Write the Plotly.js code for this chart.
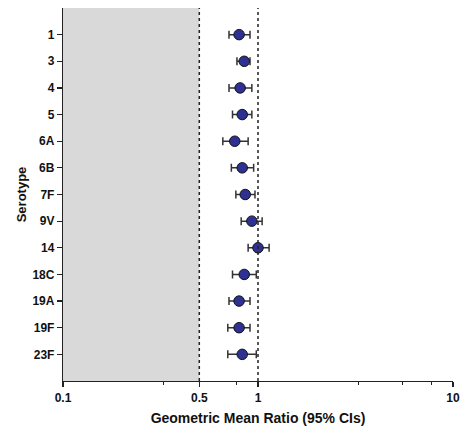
<!DOCTYPE html>
<html>
<head>
<meta charset="utf-8">
<script src="https://cdn.plot.ly/plotly-3.0.1.min.js"></script>
<style>html,body{margin:0;padding:0;background:#fff;}#chart{width:461px;height:426px;}</style>
</head>
<body>
<div id="chart"></div>
<script>
const serotypes = ["1","3","4","5","6A","6B","7F","9V","14","18C","19A","19F","23F"];
const gmr =   [0.80, 0.85, 0.81, 0.83, 0.76, 0.83, 0.86, 0.93, 1.00, 0.85, 0.80, 0.80, 0.83];
const lower = [0.71, 0.78, 0.71, 0.74, 0.66, 0.73, 0.77, 0.82, 0.89, 0.74, 0.71, 0.70, 0.70];
const upper = [0.91, 0.91, 0.93, 0.93, 0.89, 0.95, 0.965, 1.05, 1.14, 0.98, 0.91, 0.91, 0.98];
const xTickVals = [0.1, 0.5, 1, 10];
const xTickText = ["0.1", "0.5", "1", "10"];
const xMinorVals = [0.326, 0.775, 3.26, 5.5, 7.75];
const shadeFrom = 0.1, shadeTo = 0.5;
const refLines = [0.5, 1];

const fontFam = "Liberation Sans, Arial, sans-serif";

const trace = {
  type: "scatter",
  mode: "markers",
  x: gmr,
  y: serotypes,
  marker: {size: 10.5, color: "#2e3192", line: {color: "#111", width: 1}},
  error_x: {
    type: "data",
    symmetric: false,
    array: upper.map((u, i) => u - gmr[i]),
    arrayminus: lower.map((l, i) => gmr[i] - l),
    color: "#333",
    thickness: 1.5,
    width: 4
  },
  hoverinfo: "x+y",
  showlegend: false
};

const shapes = [
  {type: "rect", xref: "x", yref: "paper", x0: shadeFrom, x1: shadeTo, y0: 0, y1: 1,
   fillcolor: "#d9d9d9", line: {width: 0}, layer: "below"}
].concat(refLines.map(v => ({
  type: "line", xref: "x", yref: "paper", x0: v, x1: v, y0: 0, y1: 1,
  line: {color: "#222", width: 1.5, dash: "dot"}, layer: "above"
})));

const layout = {
  width: 461, height: 426,
  margin: {l: 63, r: 8, t: 8, b: 45},
  paper_bgcolor: "#fff", plot_bgcolor: "#fff",
  font: {family: fontFam, color: "#111", size: 12, weight: "bold"},
  xaxis: {
    type: "log",
    range: [-1, 1],
    tickvals: xTickVals,
    ticktext: xTickText,
    ticks: "outside", ticklen: 5, tickwidth: 1.2, tickcolor: "#222",
    minor: {tickvals: xMinorVals, ticks: "outside", ticklen: 3, tickwidth: 1, tickcolor: "#222", showgrid: false},
    showline: true, linecolor: "#222", linewidth: 1.2,
    showgrid: false, zeroline: false,
    tickfont: {family: fontFam, size: 12, weight: "bold", color: "#111"},
    title: {text: "Geometric Mean Ratio (95% CIs)", font: {family: fontFam, size: 14, weight: "bold", color: "#111"}, standoff: 16},
    automargin: false
  },
  yaxis: {
    type: "category",
    categoryorder: "array",
    categoryarray: serotypes,
    range: [13, -1],
    ticks: "outside", ticklen: 5, tickwidth: 1.2, tickcolor: "#222",
    showline: true, linecolor: "#222", linewidth: 1.2,
    showgrid: false, zeroline: false,
    tickfont: {family: fontFam, size: 12, weight: "bold", color: "#111"},
    title: {text: "Serotype", font: {family: fontFam, size: 13, weight: "bold", color: "#111"}, standoff: 2},
    automargin: true
  },
  shapes: shapes
};

Plotly.newPlot("chart", [trace], layout, {displayModeBar: false, staticPlot: true});
</script>
</body>
</html>
